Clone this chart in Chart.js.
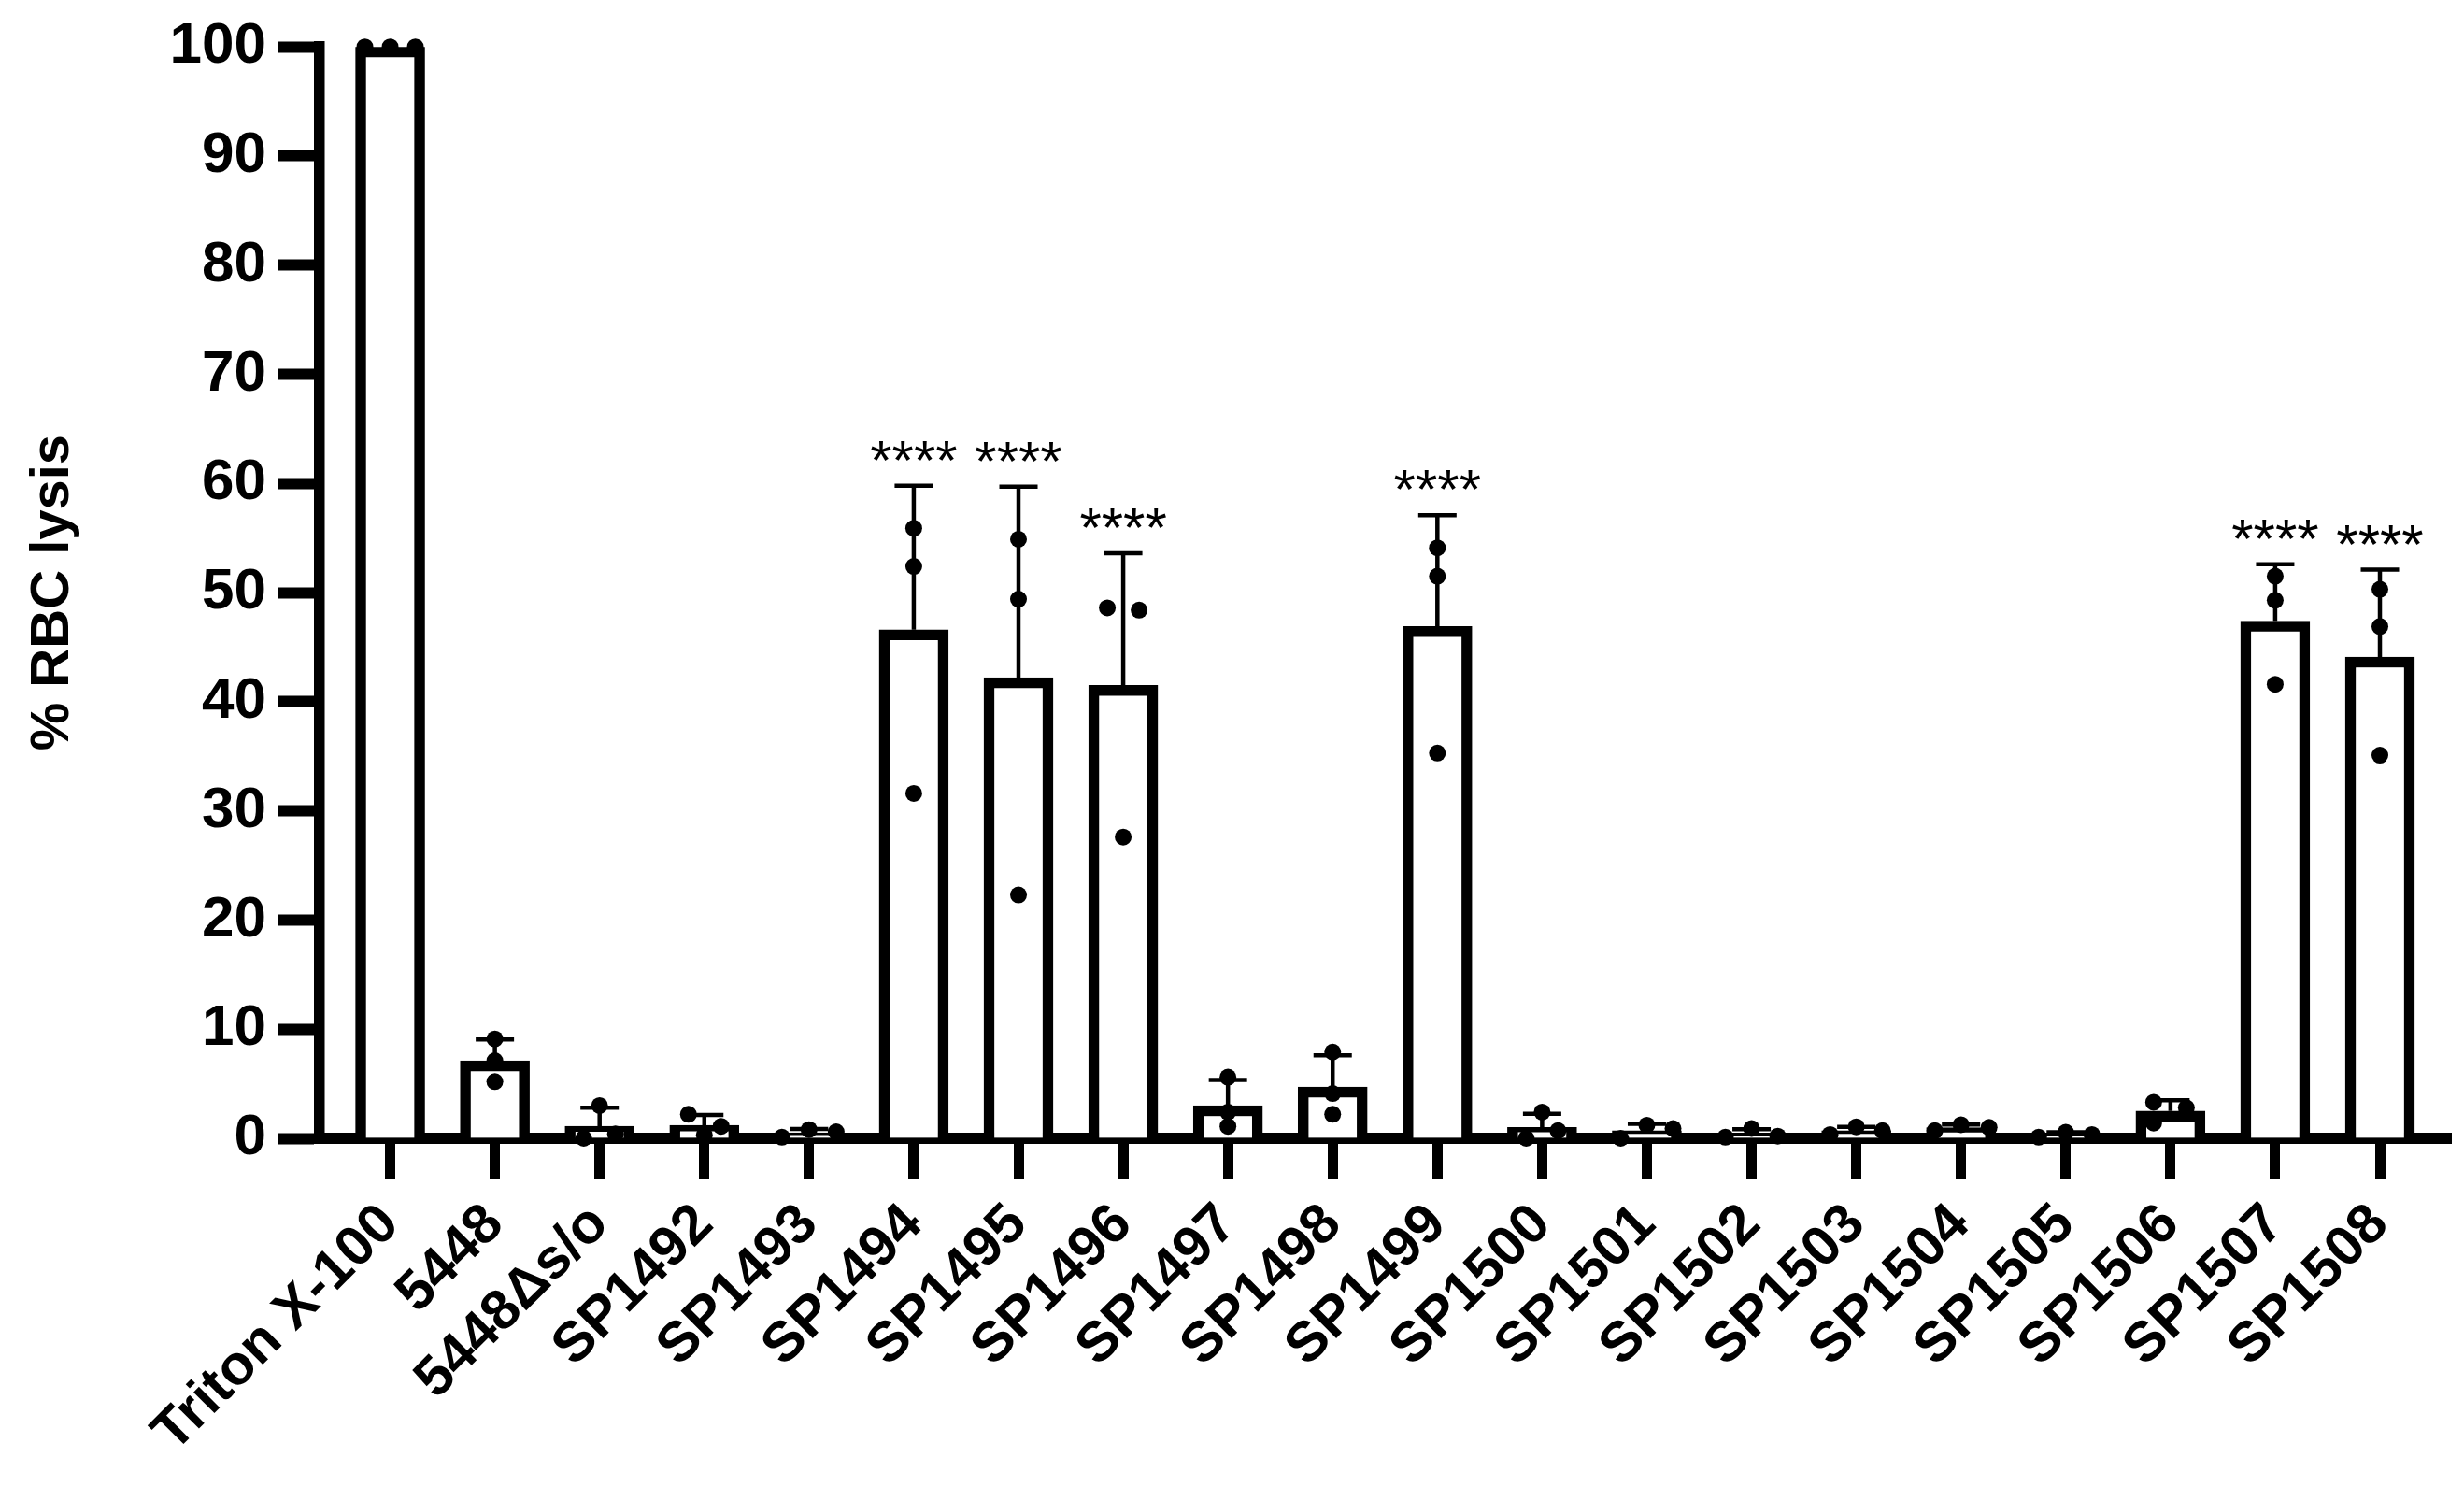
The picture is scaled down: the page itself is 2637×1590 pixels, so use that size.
<!DOCTYPE html>
<html>
<head>
<meta charset="utf-8">
<script src="https://cdn.jsdelivr.net/npm/chart.js@4.4.1/dist/chart.umd.min.js"></script>
<style>
html,body{margin:0;padding:0;background:#fff;}
canvas{display:block;}
</style>
</head>
<body>
<canvas id="c" width="2637" height="1590"></canvas>
<script>
// ---------------- data ----------------
const categories = ['Triton X-100','5448','5448\u0394s/o','SP1492','SP1493','SP1494','SP1495','SP1496','SP1497','SP1498',
  'SP1499','SP1500','SP1501','SP1502','SP1503','SP1504','SP1505','SP1506','SP1507','SP1508'];
const meanLysis = [100, 7.1, 1.1, 1.2, 0.5, 46.6, 42.2, 41.5, 3.0, 4.7, 46.9, 1.0, 0.7, 0.4, 0.7, 0.98, 0.33, 2.5, 47.4, 44.1];
const sdLysis   = [0, 1.95, 1.7, 0.95, 0.35, 13.2, 17.5, 12.1, 2.35, 2.9, 10.2, 1.25, 0.62, 0.44, 0.35, 0.28, 0.23, 0.99, 5.2, 8.0];
const replicate1 = [100, 9.1, 3.0, 2.2, 0.1, 55.9, 54.9, 48.6, 5.6, 7.9, 54.1, 2.4, 1.2, 0.1, 0.35, 0.7, 0.1, 3.3, 51.5, 50.3];
const replicate2 = [100, 7.1, 0.0, 1.1, 0.8, 52.4, 49.4, 48.4, 1.1, 2.2, 51.5, 0.0, 0.0, 0.9, 1.05, 1.25, 0.55, 1.4, 49.3, 46.9];
const replicate3 = [100, 5.2, 0.4, 0.3, 0.6, 31.6, 22.3, 27.6, 2.4, 4.1, 35.3, 0.7, 0.9, 0.2, 0.7, 1.0, 0.35, 2.8, 41.6, 35.1];
const significance = ['','','','','','****','****','****','','','****','','','','','','','','****','****'];
const yTickValues = [0,10,20,30,40,50,60,70,80,90,100];

// ---------------- layout / style (not data) ----------------
const catSpacingPx = 112;
const jitter1 = [-27, 0, 0, -17, -29, 0, 0, -17, 0, 0, 0, 0, 0, -28, -28, -28, -29, -18, 0, 0];
const jitter2 = [0, 0, -17, 18, 0, 0, 0, 17, 0, 0, 0, -17, -28, 0, 0, 0, 0, -18, 0, 0];
const jitter3 = [27, 0, 17, 0, 29, 0, 0, 0, 0, 0, 0, 17, 28, 28, 28, 30, 28, 17, 0, 0];
const FONT = "'Liberation Sans', Arial, Helvetica, sans-serif";

const reps = [replicate1, replicate2, replicate3];
const jits = [jitter1, jitter2, jitter3];
const pointData = [];
reps.forEach((rep, r) => rep.forEach((v, i) => pointData.push({x: i + jits[r][i] / catSpacingPx, y: v})));

const barData = meanLysis.map((m, i) => ({x: i, y: m}));

const extras = {
  id: 'extras',
  afterDatasetDraw(chart, args) {
    if (args.index !== 0) return;
    const ctx = chart.ctx, xs = chart.scales.x, ys = chart.scales.y;
    ctx.save();
    ctx.strokeStyle = '#000';
    ctx.lineWidth = 4.5;
    meanLysis.forEach((m, i) => {
      const sd = sdLysis[i];
      if (!sd) return;
      const x = xs.getPixelForValue(i);
      const y0 = ys.getPixelForValue(m);
      const y1 = ys.getPixelForValue(m + sd);
      ctx.beginPath();
      ctx.moveTo(x, y0); ctx.lineTo(x, y1);
      ctx.moveTo(x - 20.5, y1); ctx.lineTo(x + 20.5, y1);
      ctx.stroke();
    });
    ctx.restore();
  },
  afterDraw(chart) {
    const ctx = chart.ctx, xs = chart.scales.x, ys = chart.scales.y;
    ctx.save();
    ctx.fillStyle = '#000';
    ctx.font = "60px " + FONT;
    ctx.textAlign = 'center';
    ctx.textBaseline = 'alphabetic';
    significance.forEach((s, i) => {
      if (!s) return;
      const x = xs.getPixelForValue(i);
      const y = ys.getPixelForValue(meanLysis[i] + sdLysis[i]);
      ctx.fillText(s, x, y - 7);
    });
    ctx.restore();
  }
};

new Chart(document.getElementById('c'), {
  type: 'bar',
  data: {
    datasets: [
      {
        type: 'bar',
        data: barData,
        backgroundColor: '#ffffff',
        borderColor: '#000000',
        borderWidth: 11.5,
        barThickness: 74,
        order: 2
      },
      {
        type: 'scatter',
        data: pointData,
        pointRadius: 9,
        pointHoverRadius: 9,
        pointBackgroundColor: '#000',
        pointBorderWidth: 0,
        showLine: false,
        clip: false,
        order: 1
      }
    ]
  },
  options: {
    responsive: false,
    animation: false,
    devicePixelRatio: 1,
    layout: {padding: {top: 46, right: 14, left: 0, bottom: 0}},
    plugins: {legend: {display: false}, tooltip: {enabled: false}},
    scales: {
      x: {
        type: 'linear',
        min: -0.674,
        max: 19.678,
        offset: false,
        z: 1,
        afterBuildTicks: (s) => { s.ticks = categories.map((_, i) => ({value: i})); },
        afterFit: (s) => { s.height = 372; },
        grid: {display: true, drawOnChartArea: false, drawTicks: true, tickLength: 44, tickWidth: 11, tickColor: '#000', offset: false},
        border: {display: true, width: 12, color: '#000'},
        ticks: {
          autoSkip: false,
          minRotation: 45,
          maxRotation: 45,
          padding: 13,
          color: '#000',
          font: {family: FONT, size: 60, weight: 'bold'},
          callback: (v) => categories[v] !== undefined ? categories[v] : ''
        }
      },
      y: {
        min: 0,
        max: 100,
        z: 1,
        afterBuildTicks: (s) => { s.ticks = yTickValues.map(v => ({value: v})); },
        afterFit: (s) => { s.width = 342; },
        grid: {display: true, drawOnChartArea: false, drawTicks: true, tickLength: 44, tickWidth: 12, tickColor: '#000'},
        border: {display: true, width: 11.5, color: '#000'},
        ticks: {
          padding: 13,
          color: '#000',
          font: {family: FONT, size: 62, weight: 'bold'}
        },
        title: {
          display: true,
          text: '% RBC lysis',
          color: '#000',
          font: {family: FONT, size: 58, weight: 'bold'},
          padding: {top: 22, bottom: 0}
        }
      }
    }
  },
  plugins: [extras]
});
</script>
</body>
</html>
